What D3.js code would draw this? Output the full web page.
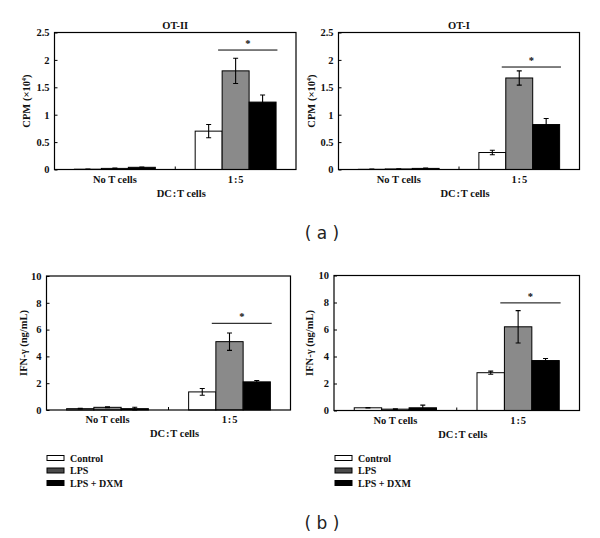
<!DOCTYPE html>
<html>
  <head>
    <meta charset="utf-8">
    <style>
      body { margin: 0; background: #fff; }
      svg text { font-family: "Liberation Serif", "DejaVu Serif", serif; font-weight: bold; fill: #111; }
      .panel-tag { font-family: "DejaVu Sans", Verdana, sans-serif; font-weight: normal; fill: #222; }
    </style>
  </head>
  <body>
    <div id="chart"></div>
    <script src="https://cdn.jsdelivr.net/npm/d3@7"></script>
    <script>
      // data
      const groups = ["No T cells", "1:5"];
      const series = ["Control", "LPS", "LPS + DXM"];

      const ot2Mean = [[0.005, 0.02, 0.04], [0.70, 1.80, 1.23]];
      const ot2Err  = [[0.005, 0.005, 0.005], [0.12, 0.23, 0.13]];
      const ot1Mean = [[0.003, 0.01, 0.02], [0.31, 1.67, 0.82]];
      const ot1Err  = [[0.003, 0.005, 0.005], [0.04, 0.13, 0.11]];
      const ifn2Mean = [[0.1, 0.2, 0.1], [1.35, 5.1, 2.1]];
      const ifn2Err  = [[0.02, 0.03, 0.1], [0.25, 0.65, 0.1]];
      const ifn1Mean = [[0.2, 0.1, 0.2], [2.8, 6.2, 3.7]];
      const ifn1Err  = [[0.02, 0.02, 0.2], [0.12, 1.2, 0.15]];

      const cpmTicks = [0, 0.5, 1, 1.5, 2, 2.5];
      const ifnTicks = [0, 2, 4, 6, 8, 10];
      const sigLevels = [2.18, 1.87, 6.47, 7.97];

      const colors = ["#ffffff", "#8a8a8a", "#000000"];
      const legendColors = ["#ffffff", "#4a4a4a", "#000000"];

      const svg = d3.select("#chart").append("svg")
        .attr("width", 600)
        .attr("height", 538);

      function panel(o) {
        const g = svg.append("g");
        const x = d3.scaleBand().domain(groups).range([o.left, o.right]);
        const inner = d3.scaleBand().domain(series)
          .range([x.bandwidth() * 0.165, x.bandwidth() * 0.835]);
        const y = d3.scaleLinear().domain([0, o.max]).range([o.bottom, o.top]);

        // bars
        groups.forEach((grp, gi) => {
          series.forEach((s, si) => {
            const bx = x(grp) + inner(s);
            const v = o.mean[gi][si];
            g.append("rect")
              .attr("x", bx)
              .attr("y", y(v))
              .attr("width", inner.bandwidth())
              .attr("height", y(0) - y(v))
              .attr("fill", colors[si])
              .attr("stroke", "#000")
              .attr("stroke-width", 1);
            const e = o.err[gi][si];
            const cx = bx + inner.bandwidth() / 2;
            g.append("path")
              .attr("d", `M${cx - 2.5},${y(v + e)}H${cx + 2.5}M${cx},${y(v + e)}V${y(Math.max(0, v - e))}M${cx - 2.5},${y(Math.max(0, v - e))}H${cx + 2.5}`)
              .attr("stroke", "#000")
              .attr("stroke-width", 1.1)
              .attr("fill", "none");
          });
        });

        // frame
        g.append("rect")
          .attr("x", o.left).attr("y", o.top)
          .attr("width", o.right - o.left).attr("height", o.bottom - o.top)
          .attr("fill", "none").attr("stroke", "#000").attr("stroke-width", 1.2);

        // y axis
        const ya = g.append("g")
          .attr("transform", `translate(${o.left},0)`)
          .call(d3.axisLeft(y).tickValues(o.ticks).tickSize(-3).tickPadding(5).tickFormat(d3.format("")));
        ya.select(".domain").remove();
        ya.selectAll("text").style("font-size", "10.5px").attr("fill", "#111");

        // middle tick between groups
        g.append("line")
          .attr("x1", (o.left + o.right) / 2).attr("x2", (o.left + o.right) / 2)
          .attr("y1", o.bottom).attr("y2", o.bottom - 3)
          .attr("stroke", "#000");

        // group labels
        groups.forEach(grp => {
          g.append("text")
            .attr("x", x(grp) + x.bandwidth() / 2)
            .attr("y", o.bottom + 13)
            .attr("text-anchor", "middle")
            .style("font-size", "10.5px")
            .text(grp === "1:5" ? "1\u200a:\u200a5" : grp);
        });
        g.append("text")
          .attr("x", (o.left + o.right) / 2 + 6)
          .attr("y", o.bottom + 27)
          .attr("text-anchor", "middle")
          .style("font-size", "10.5px")
          .text("DC\u200a:\u200aT cells");

        // y label
        const yl = g.append("text")
          .attr("transform", `translate(${o.ylabelX},${(o.top + o.bottom) / 2}) rotate(-90)`)
          .attr("text-anchor", "middle")
          .style("font-size", "10.5px");
        if (o.cpm) {
          yl.append("tspan").text("CPM (\u00d710");
          yl.append("tspan").attr("dy", -4).style("font-size", "6.5px").text("4");
          yl.append("tspan").attr("dy", 4).text(")");
        } else {
          yl.text("IFN-\u03b3 (ng/mL)");
        }

        if (o.title) {
          g.append("text")
            .attr("x", (o.left + o.right) / 2)
            .attr("y", o.top - 4)
            .attr("text-anchor", "middle")
            .style("font-size", "10.5px")
            .text(o.title);
        }

        // significance line
        const gx = x(groups[1]);
        const sx1 = gx + inner(series[0]) + inner.bandwidth() * 0.85;
        const sx2 = gx + inner(series[2]) + inner.bandwidth() * 1.05;
        g.append("line")
          .attr("x1", sx1).attr("x2", sx2)
          .attr("y1", y(o.sig)).attr("y2", y(o.sig))
          .attr("stroke", "#000").attr("stroke-width", 1);
        g.append("text")
          .attr("x", (sx1 + sx2) / 2)
          .attr("y", y(o.sig) - 3)
          .attr("text-anchor", "middle")
          .style("font-size", "10.5px")
          .text("*");
      }

      panel({ left: 54.5, right: 296, top: 32.5, bottom: 169.5, max: 2.5, ticks: cpmTicks,
              mean: ot2Mean, err: ot2Err, sig: sigLevels[0], title: "OT-II", cpm: true, ylabelX: 30 });
      panel({ left: 338.5, right: 579.5, top: 32.5, bottom: 169.5, max: 2.5, ticks: cpmTicks,
              mean: ot1Mean, err: ot1Err, sig: sigLevels[1], title: "OT-I", cpm: true, ylabelX: 315 });
      panel({ left: 46.5, right: 290.5, top: 276, bottom: 410, max: 10, ticks: ifnTicks,
              mean: ifn2Mean, err: ifn2Err, sig: sigLevels[2], cpm: false, ylabelX: 27 });
      panel({ left: 334, right: 579.5, top: 275.5, bottom: 410.5, max: 10, ticks: ifnTicks,
              mean: ifn1Mean, err: ifn1Err, sig: sigLevels[3], cpm: false, ylabelX: 313 });

      // legends
      function legend(lx) {
        series.forEach((s, i) => {
          const ly = 458 + i * 12.5;
          svg.append("rect")
            .attr("x", lx).attr("y", ly - 2.5)
            .attr("width", 17).attr("height", 5)
            .attr("fill", legendColors[i]).attr("stroke", "#000").attr("stroke-width", 1);
          svg.append("text")
            .attr("x", lx + 23).attr("y", ly + 3.5)
            .style("font-size", "10px")
            .text(s);
        });
      }
      legend(47);
      legend(335);

      svg.append("text").attr("class", "panel-tag")
        .attr("x", 322).attr("y", 239).attr("text-anchor", "middle")
        .style("font-size", "17px").text("( a )");
      svg.append("text").attr("class", "panel-tag")
        .attr("x", 322).attr("y", 529).attr("text-anchor", "middle")
        .style("font-size", "17px").text("( b )");
    </script>
  </body>
</html>
